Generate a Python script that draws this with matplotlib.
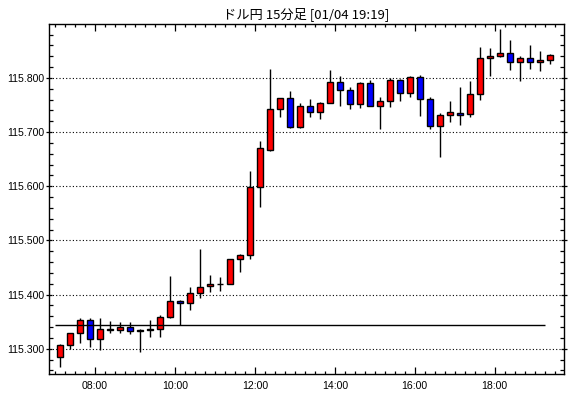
import pandas as pd
import numpy as np
import matplotlib
matplotlib.use("Agg")
import matplotlib.pyplot as plt
import matplotlib.dates as mdates
from matplotlib.ticker import MultipleLocator, FormatStrFormatter

# USD/JPY 15-minute candles, 07:00 - 19:15
start_time = "2021-01-04 07:00"
n_bars = 50

opens = [115.285, 115.307, 115.330, 115.353, 115.318, 115.335, 115.334, 115.340, 115.333, 115.334,
         115.336, 115.359, 115.388, 115.385, 115.403, 115.416, 115.420, 115.419, 115.466, 115.474,
         115.599, 115.667, 115.742, 115.762, 115.709, 115.748, 115.738, 115.753, 115.792, 115.777,
         115.751, 115.790, 115.749, 115.757, 115.796, 115.772, 115.801, 115.761, 115.712, 115.731,
         115.736, 115.733, 115.770, 115.836, 115.840, 115.846, 115.829, 115.836, 115.829, 115.833]
highs = [115.309, 115.329, 115.357, 115.356, 115.357, 115.352, 115.350, 115.350, 115.336, 115.354,
         115.363, 115.434, 115.391, 115.415, 115.485, 115.437, 115.433, 115.466, 115.475, 115.628,
         115.683, 115.817, 115.762, 115.776, 115.754, 115.761, 115.755, 115.815, 115.803, 115.783,
         115.792, 115.796, 115.764, 115.799, 115.798, 115.803, 115.805, 115.764, 115.736, 115.757,
         115.783, 115.794, 115.857, 115.855, 115.891, 115.870, 115.840, 115.861, 115.850, 115.844]
lows = [115.266, 115.299, 115.311, 115.304, 115.297, 115.330, 115.330, 115.327, 115.294, 115.321,
        115.321, 115.357, 115.344, 115.371, 115.393, 115.404, 115.406, 115.419, 115.441, 115.465,
        115.562, 115.665, 115.727, 115.707, 115.707, 115.727, 115.725, 115.753, 115.749, 115.743,
        115.744, 115.748, 115.706, 115.747, 115.758, 115.764, 115.730, 115.706, 115.654, 115.719,
        115.714, 115.728, 115.760, 115.804, 115.838, 115.815, 115.795, 115.817, 115.812, 115.825]
closes = [115.307, 115.330, 115.353, 115.318, 115.336, 115.336, 115.340, 115.333, 115.334, 115.336,
          115.359, 115.388, 115.385, 115.403, 115.414, 115.420, 115.420, 115.466, 115.474, 115.599,
          115.670, 115.743, 115.762, 115.709, 115.748, 115.738, 115.753, 115.792, 115.777, 115.751,
          115.790, 115.749, 115.757, 115.796, 115.772, 115.801, 115.761, 115.712, 115.731, 115.738,
          115.732, 115.770, 115.836, 115.840, 115.846, 115.829, 115.836, 115.829, 115.833, 115.842]

ref_level = 115.344
title = "ドル円 15分足 [01/04 19:19]"

times = pd.date_range(start_time, periods=n_bars, freq="15min")
centers = times + pd.Timedelta(minutes=7.5)
x = mdates.date2num(centers.to_pydatetime())
bar_w = 9 / 1440.0

fig = plt.figure(figsize=(5.7, 3.98), dpi=100)
ax = fig.add_axes([49 / 570, 1 - 374 / 398, (564 - 49) / 570, (374 - 24) / 398])

o = np.array(opens)
c = np.array(closes)
colors = np.where(c >= o, "#ff0000", "#0000ff")

ax.vlines(x, lows, highs, color="black", linewidth=1, zorder=2)
ax.bar(x, np.abs(c - o), bottom=np.minimum(o, c), width=bar_w, color=colors,
       edgecolor="black", linewidth=1, zorder=3)

ax.hlines(ref_level, mdates.date2num(times[0].to_pydatetime()),
          mdates.date2num(times[-1].to_pydatetime()), color="black", linewidth=1, zorder=4)

x0 = mdates.date2num(pd.Timestamp("2021-01-04 06:51").to_pydatetime())
x1 = mdates.date2num(pd.Timestamp("2021-01-04 19:44").to_pydatetime())
ax.set_xlim(x0, x1)
ax.set_ylim(115.2535, 115.8995)

ax.yaxis.set_major_locator(MultipleLocator(0.1))
ax.yaxis.set_minor_locator(MultipleLocator(0.02))
ax.yaxis.set_major_formatter(FormatStrFormatter("%.3f"))
ax.xaxis.set_major_locator(mdates.HourLocator(byhour=range(0, 24, 2)))
ax.xaxis.set_minor_locator(mdates.MinuteLocator(byminute=[0, 15, 30, 45]))
ax.xaxis.set_major_formatter(mdates.DateFormatter("%H:%M"))

ax.grid(axis="y", which="major", color="black", linestyle=(0, (1, 2)), linewidth=0.8)
ax.tick_params(axis="both", which="both", top=True, right=True, color="black",
               labelsize=7.6, width=0.9)
ax.tick_params(axis="y", which="major", direction="inout", length=5, pad=1)
ax.tick_params(axis="y", which="minor", direction="in", length=3)
ax.tick_params(axis="x", which="major", direction="in", length=5, pad=5)
ax.tick_params(axis="x", which="minor", direction="in", length=2.5)
for lab in ax.get_xticklabels() + ax.get_yticklabels():
    lab.set_fontfamily("Liberation Sans")
for s in ax.spines.values():
    s.set_linewidth(1.0)

ax.set_title(title, fontsize=9.5, family=["Noto Sans CJK JP", "DejaVu Sans"], pad=4)

fig.savefig("out.png", dpi=100)
